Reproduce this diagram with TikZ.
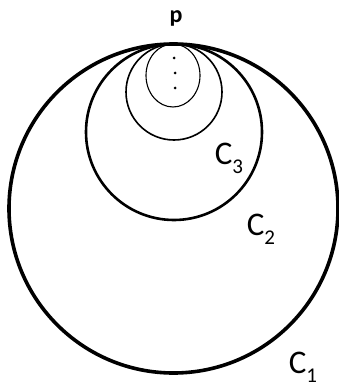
\documentclass[tikz,border=0pt]{standalone}
\usepackage{fontspec}
\setmainfont{Carlito}
\usetikzlibrary{shapes.geometric}
\tikzset{
  ring/.style={draw, circle, inner sep=0pt, black},
  oval/.style={draw, ellipse, inner sep=0pt, black},
  lbl/.style={inner sep=0pt, font=\fontsize{33}{33}\selectfont},
  dotmark/.style={fill, circle, inner sep=0pt, minimum size=3pt}
}
\newcommand{\subnum}[1]{\raisebox{-0.28em}{\fontsize{21}{21}\selectfont #1}}
\begin{document}
\begin{tikzpicture}[x=1pt,y=-1pt]
\useasboundingbox (0,0) rectangle (339,390);
\node[ring, line width=3.6pt, minimum size=329pt] (c1) at (173.5,208.5) {};
\node[ring, line width=2.6pt, minimum size=176pt] (c2) at (174,132) {};
\node[ring, line width=1.6pt, minimum size=96pt] (c3) at (174,92) {};
\node[oval, line width=1.1pt, minimum width=54pt, minimum height=63pt] (c4) at (173,75.5) {};
\node[dotmark] (d1) at (174,58) {};
\node[dotmark] (d2) at (175,73) {};
\node[dotmark] (d3) at (175,88) {};
\node[inner sep=0pt, font=\bfseries\fontsize{24}{24}\selectfont] (p) at (176,18) {p};
\node[lbl] (l3) at (229,158) {C\subnum{3}};
\node[lbl] (l2) at (261,229) {C\subnum{2}};
\node[lbl] (l1) at (303,367) {C\subnum{1}};
\end{tikzpicture}
\end{document}
